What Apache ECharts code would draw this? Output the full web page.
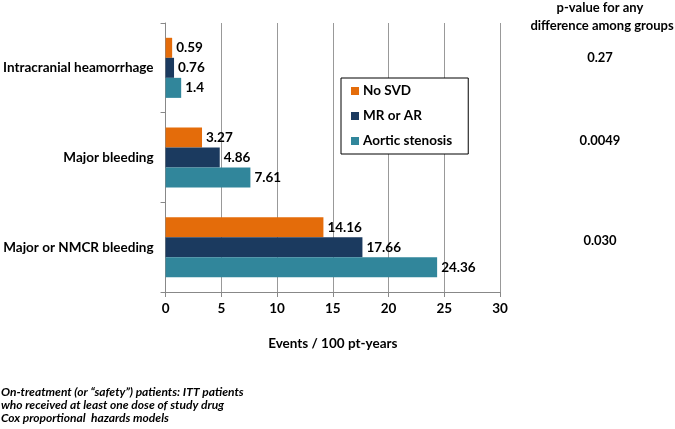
<!DOCTYPE html>
<html><head><meta charset="utf-8">
<script src="https://cdn.jsdelivr.net/npm/echarts@6/dist/echarts.min.js"></script>
<style>html,body{margin:0;padding:0;background:#fff}#c{width:675px;height:429px}</style>
</head><body><div id="c"></div>
<script>
const categories = ['Intracranial heamorrhage', 'Major bleeding', 'Major or NMCR bleeding'];
const noSVD = [0.59, 3.27, 14.16];
const mrOrAr = [0.76, 4.86, 17.66];
const aorticStenosis = [1.4, 7.61, 24.36];
const pValues = ['0.27', '0.0049', '0.030'];
const xTicks = [0, 5, 10, 15, 20, 25, 30];
const footnote = ['On-treatment (or \u201csafety\u201d) patients: ITT patients', 'who received at least one dose of study drug', 'Cox proportional  hazards models'];

const FONT = 'Lato, "Open Sans", sans-serif';
const chart = echarts.init(document.getElementById('c'));
const lbl = {show: true, position: 'right', distance: 4, color: '#000', fontWeight: 'bold', fontSize: 13.5, fontFamily: FONT};
const pY = [58, 141, 241];
chart.setOption({
  animation: false,
  textStyle: {fontFamily: FONT},
  grid: {left: 165, right: 175, top: 23, bottom: 137},
  legend: {
    data: ['No SVD', 'MR or AR', 'Aortic stenosis'],
    orient: 'vertical', left: 341, top: 78,
    width: 124,
    padding: [6, 16, 6, 10],
    itemGap: 11, itemWidth: 8, itemHeight: 8,
    borderColor: '#000', borderWidth: 1, backgroundColor: '#fff',
    textStyle: {fontSize: 13.5, fontWeight: 'bold', color: '#000', fontFamily: FONT, padding: [0,0,0,-1]},
    icon: 'rect'
  },
  xAxis: {
    type: 'value', min: 0, max: 30, interval: 5,
    name: 'Events / 100 pt-years', nameLocation: 'middle', nameGap: 45,
    nameTextStyle: {fontSize: 13.5, fontWeight: 'bold', color: '#000', fontFamily: FONT},
    axisLine: {show: true, lineStyle: {color: '#888'}},
    axisTick: {show: true, length: 5, lineStyle: {color: '#888'}},
    axisLabel: {fontSize: 13.5, fontWeight: 'bold', color: '#000', margin: 10, fontFamily: FONT,
      formatter: v => xTicks.includes(v) ? String(v) : ''},
    splitLine: {show: true, lineStyle: {color: '#999'}}
  },
  yAxis: {
    type: 'category', data: categories, inverse: true,
    axisLine: {show: true, lineStyle: {color: '#888'}},
    axisTick: {show: true, length: 5, lineStyle: {color: '#888'}},
    axisLabel: {fontSize: 13.5, fontWeight: 'bold', color: '#000', margin: 12, fontFamily: FONT}
  },
  series: [
    {name: 'No SVD', type: 'bar', data: noSVD, barGap: '0%', barCategoryGap: '33%', itemStyle: {color: '#E46C0A'}, label: lbl},
    {name: 'MR or AR', type: 'bar', data: mrOrAr, itemStyle: {color: '#1B3A5F'}, label: lbl},
    {name: 'Aortic stenosis', type: 'bar', data: aorticStenosis, itemStyle: {color: '#31869B'}, label: lbl}
  ],
  graphic: [
    {type: 'text', x: 600, y: 8, style: {text: 'p-value for any', font: 'bold 13px ' + FONT, fill: '#000', align: 'center', verticalAlign: 'middle'}},
    {type: 'text', x: 602, y: 26, style: {text: 'difference among groups', font: 'bold 13px ' + FONT, fill: '#000', align: 'center', verticalAlign: 'middle'}},
    ...pValues.map((p, i) => ({type: 'text', x: 600, y: pY[i], style: {text: p, font: 'bold 13px ' + FONT, fill: '#000', align: 'center', verticalAlign: 'middle'}})),
    ...footnote.map((t, i) => ({type: 'text', x: 1, y: 392 + i * 13, style: {text: t, font: 'italic bold 12px ' + FONT, fill: '#000', verticalAlign: 'middle'}}))
  ]
});
</script></body></html>
